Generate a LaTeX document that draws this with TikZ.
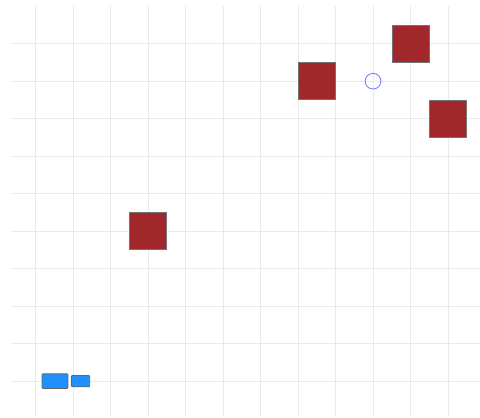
\documentclass[tikz,border=0pt]{standalone}
\usetikzlibrary{positioning}
\definecolor{cblock}{RGB}{160,40,42}
\definecolor{cagent}{RGB}{30,144,255}
\definecolor{cgoal}{RGB}{130,130,255}
\definecolor{cgrid}{RGB}{234,234,234}

\begin{document}
\begin{tikzpicture}[
  blocksq/.style={draw=black!55,line width=0.5pt,fill=cblock,minimum size=0.98cm,inner sep=0pt},
  agentbox/.style={draw=black!60,line width=0.6pt,fill=cagent,rounded corners=0.6pt,inner sep=0pt}]
 \useasboundingbox (-0.947,-0.955) rectangle (11.853,10.165);
 % ---- grid ----
 \foreach \x in {0,...,11}\draw[cgrid,line width=0.7pt](\x,-0.955)--(\x,10);
 \foreach \y in {0,...,9}\draw[cgrid,line width=0.7pt](-0.65,\y)--(11.853,\y);
 % ---- obstacles ----
 \foreach \nm/\px/\py in {b1/3/4, b2/7.5/8, b3/10/9, b4/11/7}
   \node[blocksq] (\nm) at (\px,\py){};
 % ---- goal marker ----
 \node[circle,draw=cgoal,line width=0.7pt,minimum size=0.42cm,inner sep=0pt] (goal) at (9,8){};
 % ---- agent ----
 \node[agentbox,minimum width=0.69cm,minimum height=0.39cm] (cab) at (0.52,0){};
 \node[agentbox,minimum width=0.49cm,minimum height=0.30cm,right=0.07 of cab] (trailer){};
\end{tikzpicture}
\end{document}
